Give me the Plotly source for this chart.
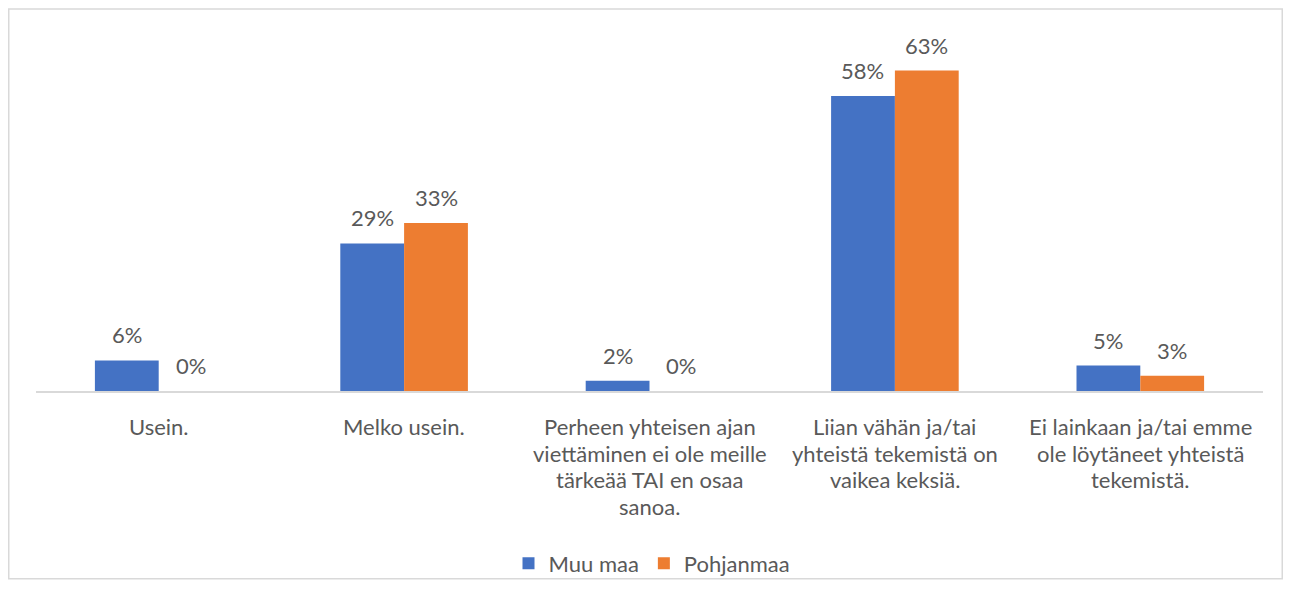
import plotly.graph_objects as go

categories = [
    "Usein.",
    "Melko usein.",
    "Perheen yhteisen ajan<br>viettäminen ei ole meille<br>tärkeää TAI en osaa<br>sanoa.",
    "Liian vähän ja/tai<br>yhteistä tekemistä on<br>vaikea keksiä.",
    "Ei lainkaan ja/tai emme<br>ole löytäneet yhteistä<br>tekemistä.",
]
series_names = ["Muu maa", "Pohjanmaa"]
muu_maa = [6, 29, 2, 58, 5]
pohjanmaa = [0, 33, 0, 63, 3]

OFF = 8  # page body margin
W, H = 1291 - 2 * OFF, 588
left, right = 36 - OFF, 1263 - OFF
top, base = 20 - OFF, 402 - OFF
pxper = (402 - 72) / 63.0
ymax = (base - top) / pxper

font = "Lato, 'Open Sans', sans-serif"
gray = "#595959"
FS = 22
BARGAP = 0.48

pw = right - left
ph = base - top
bar_px = pw / len(categories) * (1 - BARGAP) / 2

fig = go.Figure()
colors = ["#4472C4", "#ED7D31"]
for k, (name, vals) in enumerate(zip(series_names, [muu_maa, pohjanmaa])):
    fig.add_trace(go.Bar(name=name, x=list(range(len(categories))), y=vals,
                         marker=dict(color=colors[k], line=dict(width=0))))
    for i, v in enumerate(vals):
        fig.add_annotation(x=i, xref="x", y=v, yref="y", text=f"{v}%", showarrow=False,
                           xshift=(k - 0.5) * bar_px, yanchor="bottom", yshift=10,
                           font=dict(size=FS, color=gray, family=font))

# category labels, one line at a time for tight line spacing
for i, cat in enumerate(categories):
    for j, line in enumerate(cat.split("<br>")):
        fig.add_annotation(x=i, xref="x", y=0, yref="paper", text=line, showarrow=False,
                           yanchor="top", yshift=-(20 + j * 26.5),
                           font=dict(size=FS, color=gray, family=font))

fig.add_shape(type="rect", xref="paper", yref="paper",
              x0=(0.75 - left) / pw, x1=(W - 0.75 - left) / pw,
              y0=(base - (H - 0.75)) / ph, y1=(base - 0.75) / ph,
              line=dict(color="#d9d9d9", width=1.5), fillcolor="rgba(0,0,0,0)", layer="below")

fig.update_layout(
    width=W, height=H,
    margin=dict(l=left, r=W - right, t=top, b=H - base),
    plot_bgcolor="white", paper_bgcolor="white",
    barmode="group", bargap=BARGAP, bargroupgap=0,
    font=dict(family=font, size=FS, color=gray),
    showlegend=True,
    legend=dict(orientation="h", x=(652 - OFF - left) / pw, xanchor="center",
                y=(base - (558 - OFF)) / ph, yanchor="top", bgcolor="rgba(0,0,0,0)",
                font=dict(size=FS, color=gray, family=font), itemwidth=30, traceorder="normal"),
    xaxis=dict(tickmode="array", tickvals=list(range(len(categories))), showticklabels=False,
               range=[-0.5, len(categories) - 0.5], showgrid=False, showline=True,
               linecolor="#d9d9d9", linewidth=1.5, ticks=""),
    yaxis=dict(range=[0, ymax], visible=False, showgrid=False, zeroline=False),
)

fig.write_html("out.html")
